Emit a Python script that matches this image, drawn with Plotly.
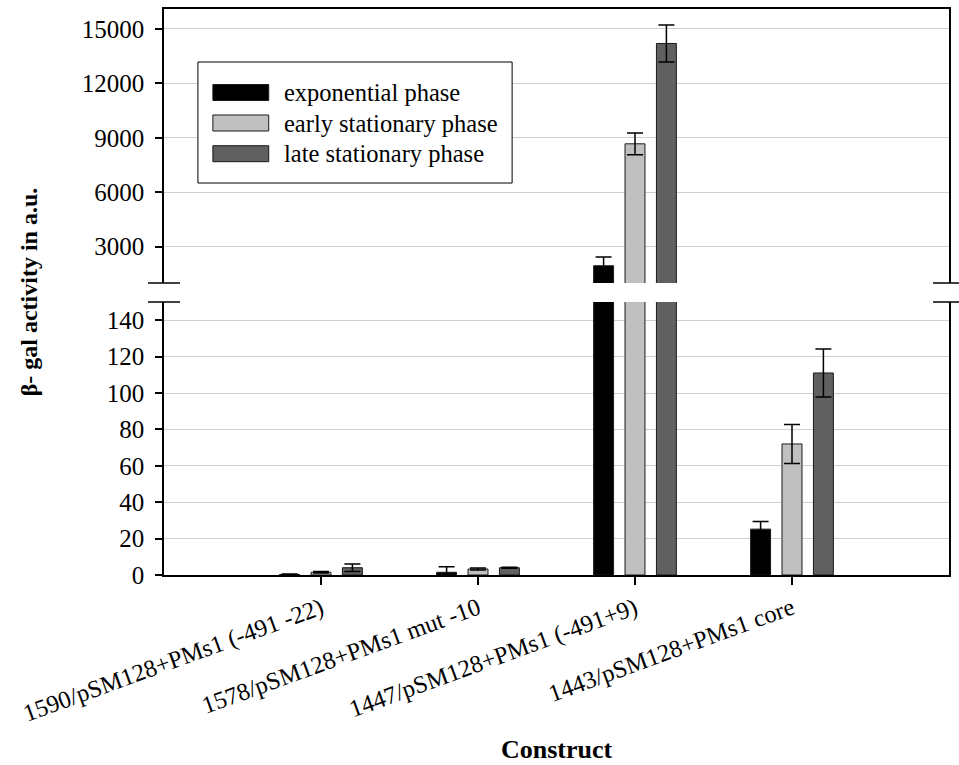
import plotly.graph_objects as go
from plotly.subplots import make_subplots

# ---- data ----
constructs = ["1590/pSM128+PMs1 (-491 -22)", "1578/pSM128+PMs1 mut -10",
              "1447/pSM128+PMs1 (-491+9)", "1443/pSM128+PMs1 core"]
series_names = ["exponential phase", "early stationary phase", "late stationary phase"]
exp_vals = [0.3, 1.5, 1950, 25.2]
exp_err = [0.2, 3.0, 480, 4.2]
early_vals = [1.5, 3.3, 8670, 72]
early_err = [0.4, 0.5, 600, 10.7]
late_vals = [4.0, 4.0, 14200, 111]
late_err = [2.1, 0.3, 1020, 13.2]
colors = ["#000000", "#c0c0c0", "#606060"]
upper_ticks = [3000, 6000, 9000, 12000, 15000]
lower_ticks = [0, 20, 40, 60, 80, 100, 120, 140]

W, H = 959, 765
ML, MR, MT, MB = 164, 8, 9, 190
PW, PH = W - ML - MR, H - MT - MB
FONT = "Liberation Serif, Times New Roman, serif"

def px_x(x):
    return (x - ML) / PW

def px_y(y):
    return (H - MB - y) / PH

upper_dom = [px_y(283), 1.0]
lower_dom = [0.0, px_y(302)]

fig = make_subplots(rows=2, cols=1, shared_xaxes=True, vertical_spacing=0.0)

vals = [exp_vals, early_vals, late_vals]
errs = [exp_err, early_err, late_err]
for row in (1, 2):
    for name, v, e, c in zip(series_names, vals, errs, colors):
        fig.add_trace(go.Bar(
            x=constructs, y=v, name=name, showlegend=False,
            marker=dict(color=c, line=dict(color="#1a1a1a", width=1)),
            error_y=dict(type="data", array=e, visible=True, color="#000000",
                         thickness=1.5, width=8),
        ), row=row, col=1)

fig.update_layout(
    width=W, height=H,
    margin=dict(l=ML, r=MR, t=MT, b=MB),
    barmode="group", bargap=0.4, bargroupgap=0.365,
    plot_bgcolor="white", paper_bgcolor="white",
    font=dict(family=FONT, size=25, color="black"),
    showlegend=False,
)

ycommon = dict(showline=True, mirror=True, linecolor="black", linewidth=1.5,
               ticks="outside", ticklen=7, tickcolor="black", tickwidth=1.5,
               showgrid=True, gridcolor="#d0d0d0", gridwidth=1, zeroline=False,
               tickformat="d", ticklabelstandoff=6,
               tickfont=dict(family=FONT, size=25, color="black"))

fig.update_layout(
    xaxis=dict(range=[-1, 4], showline=True, linecolor="black", linewidth=1.5,
               side="top", showticklabels=False, ticks="", showgrid=False),
    yaxis=dict(domain=upper_dom, range=[1000, 16100], tickvals=upper_ticks, **ycommon),
    xaxis2=dict(range=[-1, 4], showline=True, linecolor="black", linewidth=1.5,
                ticks="outside", ticklen=8, tickcolor="black", tickwidth=1.5,
                tickangle=-20, showgrid=False,
                tickfont=dict(family=FONT, size=24.5, color="black")),
    yaxis2=dict(domain=lower_dom, range=[0, 150], tickvals=lower_ticks, **ycommon),
)

shapes = []
# axis break marks
for yy in (upper_dom[0], lower_dom[1]):
    for xc in (0.0, 1.0):
        shapes.append(dict(type="line", xref="paper", yref="paper",
                           x0=xc - 16 / PW, x1=xc + 16 / PW, y0=yy, y1=yy,
                           line=dict(color="black", width=1.5)))

# custom legend box
shapes.append(dict(type="rect", xref="paper", yref="paper",
                   x0=px_x(198), x1=px_x(513), y0=px_y(183), y1=px_y(62),
                   fillcolor="white", line=dict(color="black", width=1), layer="above"))
annotations = []
row_y = [92.5, 123, 153.7]
for name, c, ry in zip(series_names, colors, row_y):
    shapes.append(dict(type="rect", xref="paper", yref="paper",
                       x0=px_x(213), x1=px_x(269), y0=px_y(ry + 8), y1=px_y(ry - 8),
                       fillcolor=c, line=dict(color="#1a1a1a", width=1), layer="above"))
    annotations.append(dict(xref="paper", yref="paper", x=px_x(282), y=px_y(ry),
                            xanchor="left", yanchor="middle", showarrow=False,
                            text=name, font=dict(family=FONT, size=24.5, color="black")))

annotations.append(dict(xref="paper", yref="paper", x=px_x(29), y=px_y(292),
                        xanchor="center", yanchor="middle", showarrow=False, textangle=-90,
                        text="<b>β- gal activity in a.u.</b>",
                        font=dict(family=FONT, size=24, color="black")))
annotations.append(dict(xref="paper", yref="paper", x=0.5, y=px_y(749),
                        xanchor="center", yanchor="middle", showarrow=False,
                        text="<b>Construct</b>",
                        font=dict(family=FONT, size=26, color="black")))

fig.update_layout(shapes=shapes, annotations=annotations)
fig.write_html("out.html")
